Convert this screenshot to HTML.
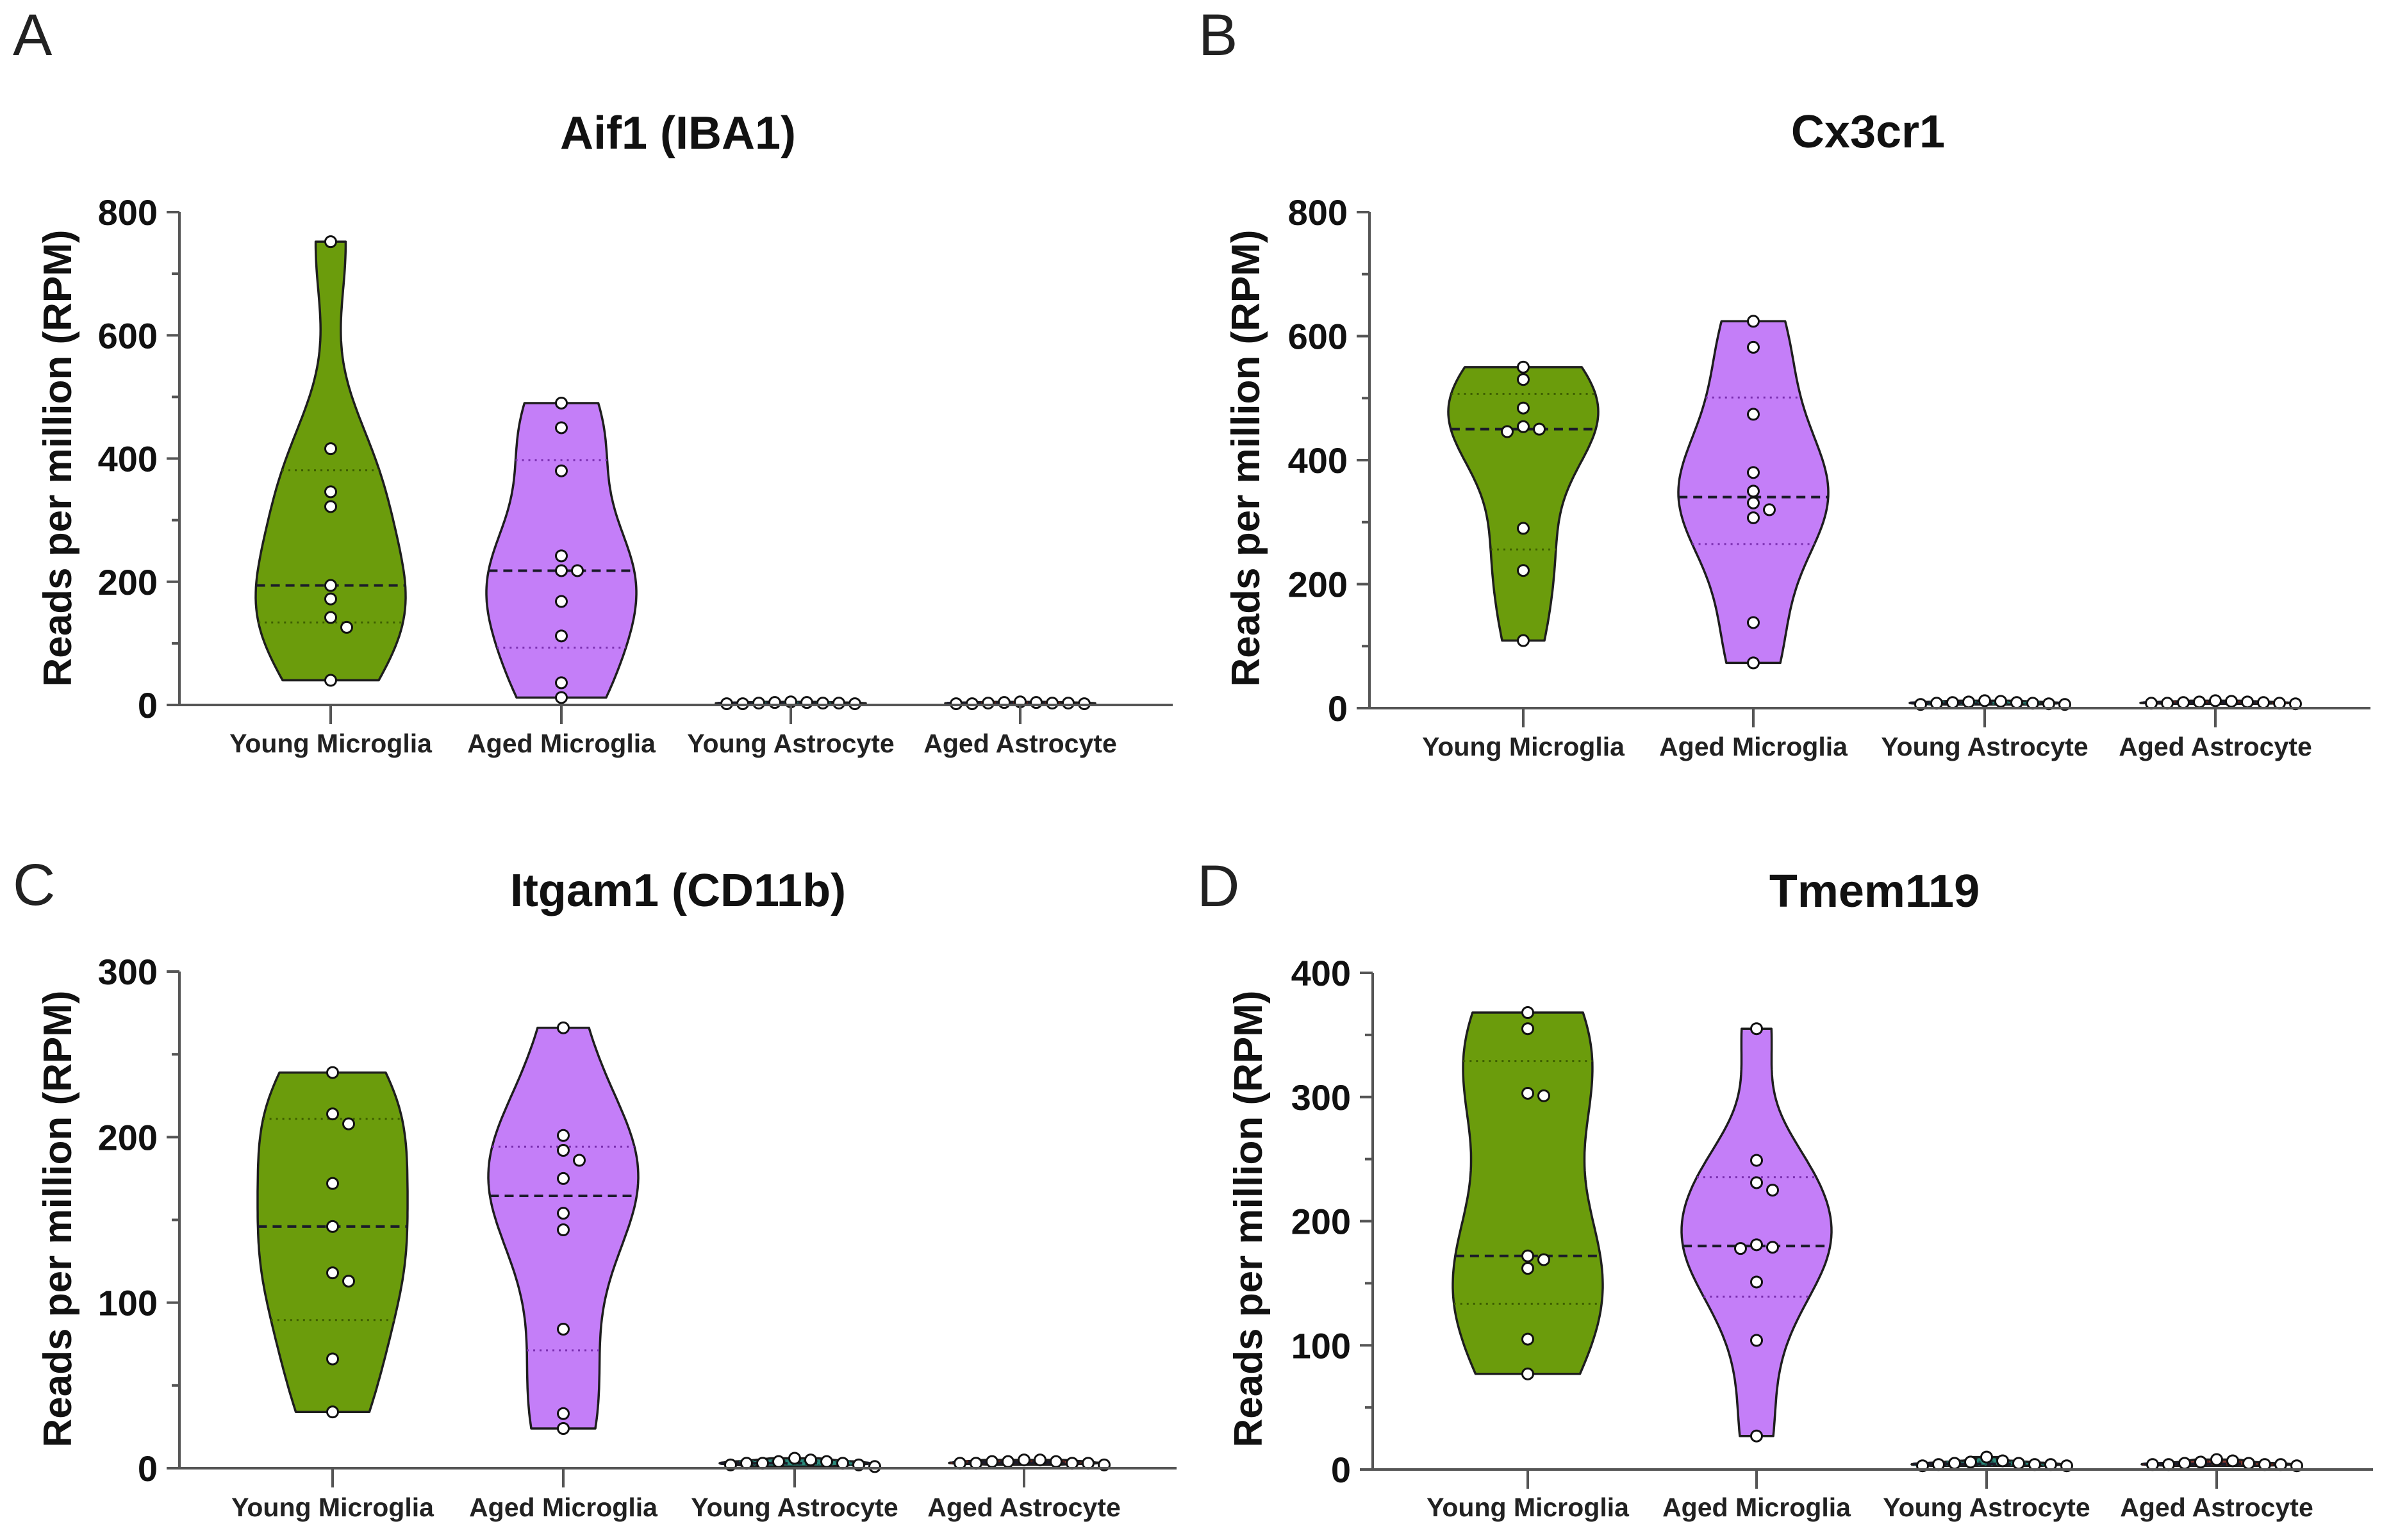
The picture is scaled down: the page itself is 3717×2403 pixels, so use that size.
<!DOCTYPE html>
<html>
<head>
<meta charset="utf-8">
<style>
html,body{margin:0;padding:0;background:#fff;}
svg{display:block;}
text{font-family:"Liberation Sans",Arial,sans-serif;}
</style>
</head>
<body>
<svg id="fig" xmlns="http://www.w3.org/2000/svg" width="3717" height="2403" viewBox="0 0 3717 2403">
<rect x="0" y="0" width="3717" height="2403" fill="#ffffff"/>
</svg>
<script>
// ---- data ----
const categories = ["Young Microglia", "Aged Microglia", "Young Astrocyte", "Aged Astrocyte"];

const aif1YoungMicroglia = [752, 416, 346, 322, 194, 172, 142, 126, 40];
const aif1AgedMicroglia = [490, 450, 380, 242, 218, 218, 168, 112, 36, 12];
const aif1YoungAstrocyte = [3, 4, 2, 5, 3, 2, 4, 3, 2];
const aif1AgedAstrocyte = [2, 3, 4, 2, 3, 5, 2, 3, 4];

const cx3cr1YoungMicroglia = [550, 530, 484, 454, 446, 450, 290, 222, 109];
const cx3cr1AgedMicroglia = [624, 582, 474, 380, 350, 331, 320, 307, 138, 73];
const cx3cr1YoungAstrocyte = [6, 12, 9, 8, 10, 7, 9, 11, 6, 8];
const cx3cr1AgedAstrocyte = [8, 12, 10, 9, 8, 11, 7, 9, 10, 8];

const itgamYoungMicroglia = [239, 214, 208, 172, 146, 118, 113, 66, 34];
const itgamAgedMicroglia = [266, 201, 192, 186, 175, 154, 144, 84, 33, 24];
const itgamYoungAstrocyte = [3, 6, 2, 4, 3, 5, 4, 2, 3, 1];
const itgamAgedAstrocyte = [3, 5, 4, 3, 5, 2, 4, 3, 4, 3];

const tmemYoungMicroglia = [368, 355, 303, 301, 172, 169, 162, 105, 77];
const tmemAgedMicroglia = [355, 249, 231, 225, 181, 179, 178, 151, 104, 27];
const tmemYoungAstrocyte = [4, 5, 3, 6, 4, 10, 7, 5, 4, 3];
const tmemAgedAstrocyte = [4, 8, 5, 6, 4, 7, 5, 4, 3, 4];

const aif1Ticks = [0, 200, 400, 600, 800];
const cx3cr1Ticks = [0, 200, 400, 600, 800];
const itgamTicks = [0, 100, 200, 300];
const tmemTicks = [0, 100, 200, 300, 400];

// ---- layout ----
const NS = "http://www.w3.org/2000/svg";
const svg = document.getElementById("fig");
const fills = ["#6b9c0c", "#c47ef8", "#2b8a7c", "#8c3a30"];
const quartColors = ["#3d5e00", "#7a2fb0", "#1a5a50", "#5a2018"];

const panels = [
  {key:"aif1", label:"A", lx:20, ly:86, title:"Aif1 (IBA1)", tx:1058, ty:232, ax:280, y0:1100, yTop:331, max:800, minor:100, xEnd:1830, cats:[516,876,1234,1592], ytx:89, yty:715, xly:1174,
   groups:[aif1YoungMicroglia, aif1AgedMicroglia, aif1YoungAstrocyte, aif1AgedAstrocyte], ticks:aif1Ticks},
  {key:"cx3cr1", label:"B", lx:1870, ly:86, title:"Cx3cr1", tx:2915, ty:230, ax:2137, y0:1105, yTop:331, max:800, minor:100, xEnd:3699, cats:[2377,2736,3097,3457], ytx:1943, yty:715, xly:1179,
   groups:[cx3cr1YoungMicroglia, cx3cr1AgedMicroglia, cx3cr1YoungAstrocyte, cx3cr1AgedAstrocyte], ticks:cx3cr1Ticks},
  {key:"itgam1", label:"C", lx:20, ly:1412, title:"Itgam1 (CD11b)", tx:1058, ty:1414, ax:280, y0:2291, yTop:1516, max:300, minor:50, xEnd:1836, cats:[519,879,1240,1598], ytx:89, yty:1902, xly:2366,
   groups:[itgamYoungMicroglia, itgamAgedMicroglia, itgamYoungAstrocyte, itgamAgedAstrocyte], ticks:itgamTicks},
  {key:"tmem119", label:"D", lx:1868, ly:1414, title:"Tmem119", tx:2925, ty:1415, ax:2142, y0:2293, yTop:1518, max:400, minor:50, xEnd:3703, cats:[2384,2741,3100,3459], ytx:1947, yty:1902, xly:2366,
   groups:[tmemYoungMicroglia, tmemAgedMicroglia, tmemYoungAstrocyte, tmemAgedAstrocyte], ticks:tmemTicks}
];

function mk(tag, attrs, parent){
  const el = document.createElementNS(NS, tag);
  for (const k in attrs) el.setAttribute(k, attrs[k]);
  (parent || svg).appendChild(el);
  return el;
}
// GraphPad-style percentile: position (n+1)p
function quantile(sorted, p){
  const n = sorted.length;
  let pos = (n + 1) * p - 1;
  if (pos < 0) pos = 0;
  if (pos > n - 1) pos = n - 1;
  const lo = Math.floor(pos), hi = Math.ceil(pos);
  return sorted[lo] + (sorted[hi] - sorted[lo]) * (pos - lo);
}
function kde(vals, h){
  return function(x){ let s = 0; for (const v of vals){ const u = (x - v) / h; s += Math.exp(-0.5*u*u); } return s; };
}

panels.forEach(function(p){
  const yScale = function(v){ return p.y0 - (v / p.max) * (p.y0 - p.yTop); };
  const g = mk("g", {});
  
  

  const lab = mk("text", {x:p.lx, y:p.ly, "font-size":92, fill:"#222"}, g);
  lab.textContent = p.label;
  
  

  const t = mk("text", {x:p.tx, y:p.ty, "font-size":72, "font-weight":"bold", "text-anchor":"middle", fill:"#111"}, g);
  t.textContent = p.title;
  
  

  const yt = mk("text", {x:0, y:0, "font-size":62, "font-weight":"bold", "text-anchor":"middle", fill:"#111", transform:"translate(" + (p.ytx + 22) + "," + p.yty + ") rotate(-90)"}, g);
  yt.textContent = "Reads per million (RPM)";
  
  

  p.groups.forEach(function(vals, gi){
    const cx = p.cats[gi];
    const sorted = vals.slice().sort(function(a,b){return a-b;});
    const n = sorted.length;
    const mean = sorted.reduce(function(a,b){return a+b;},0)/n;
    const sd = Math.sqrt(sorted.reduce(function(a,b){return a+(b-mean)*(b-mean);},0)/(n-1)) || 1;
    const iqr = quantile(sorted,0.75) - quantile(sorted,0.25);
    let h = 0.9 * Math.min(sd, iqr > 0 ? iqr/1.34 : sd) * Math.pow(n, -0.2);
    if (!(h > 0)) h = 1;
    const f = kde(sorted, h);
    const lo = sorted[0], hi = sorted[n-1];
    const steps = 80;
    const pts = [];
    let maxD = 0;
    for (let i = 0; i <= steps; i++){
      const v = lo + (hi - lo) * i / steps;
      const d = f(v);
      if (d > maxD) maxD = d;
      pts.push([v, d]);
    }
    const W = 117;
    const hw = function(d){ return W * d / maxD; };
    let dpath = "";
    pts.forEach(function(q, i){ dpath += (i ? "L" : "M") + (cx + hw(q[1])).toFixed(1) + "," + yScale(q[0]).toFixed(1); });
    for (let i = pts.length - 1; i >= 0; i--){ dpath += "L" + (cx - hw(pts[i][1])).toFixed(1) + "," + yScale(pts[i][0]).toFixed(1); }
    dpath += "Z";
    const vio = mk("path", {d:dpath, fill:fills[gi], stroke:"#1e1e1e", "stroke-width":3.5, "stroke-linejoin":"round"}, g);
    
    

    [[0.25,"q1"],[0.5,"median"],[0.75,"q3"]].forEach(function(qq){
      const v = quantile(sorted, qq[0]);
      const w = hw(f(v));
      const isMed = qq[1] === "median";
      const ln = mk("line", {x1:cx - w, x2:cx + w, y1:yScale(v), y2:yScale(v),
        stroke: isMed ? "#1b1b2a" : quartColors[gi], "stroke-width": isMed ? 4 : 3,
        "stroke-dasharray": isMed ? "14 9" : "3 7"}, g);
      
      
    });

    const r = 8.5, minDist = 17, step = 25;
    const placed = [];
    const order = vals.slice().sort(function(a,b){return b-a;});
    order.forEach(function(v){
      const y = yScale(v);
      let k = 0, off = 0;
      while (true){
        off = (k === 0) ? 0 : (k % 2 ? 1 : -1) * Math.ceil(k/2) * step;
        const ok = placed.every(function(pp){ const dx = pp[0]-off, dy = pp[1]-y; return dx*dx + dy*dy >= minDist*minDist; });
        if (ok) break;
        k++;
        if (k > 60) break;
      }
      placed.push([off, y]);
      const c = mk("circle", {cx:cx + off, cy:y, r:r, fill:"#ffffff", stroke:"#111", "stroke-width":3}, g);
      
      
    });
  });

  const yax = mk("line", {x1:p.ax, x2:p.ax, y1:p.yTop, y2:p.y0, stroke:"#555", "stroke-width":4}, g);
  
  
  const xax = mk("line", {x1:p.ax - 2, x2:p.xEnd, y1:p.y0, y2:p.y0, stroke:"#555", "stroke-width":4}, g);
  
  

  for (let v = 0; v <= p.max + 0.001; v += p.minor){
    const isMajor = p.ticks.indexOf(v) >= 0;
    const tk = mk("line", {x1:p.ax - (isMajor ? 20 : 12), x2:p.ax, y1:yScale(v), y2:yScale(v), stroke:"#555", "stroke-width":4}, g);
    
    
  }
  p.ticks.forEach(function(v){
    const tl = mk("text", {x:p.ax - 34, y:yScale(v) + 20, "font-size":56, "font-weight":"bold", "text-anchor":"end", fill:"#111"}, g);
    tl.textContent = String(v);
    
    
  });
  categories.forEach(function(c, i){
    const tk = mk("line", {x1:p.cats[i], x2:p.cats[i], y1:p.y0, y2:p.y0 + 30, stroke:"#555", "stroke-width":4}, g);
    
    
    const tl = mk("text", {x:p.cats[i], y:p.xly, "font-size":41, "font-weight":"bold", "text-anchor":"middle", fill:"#222"}, g);
    tl.textContent = c;
    
    
  });
});
</script>
</body>
</html>
